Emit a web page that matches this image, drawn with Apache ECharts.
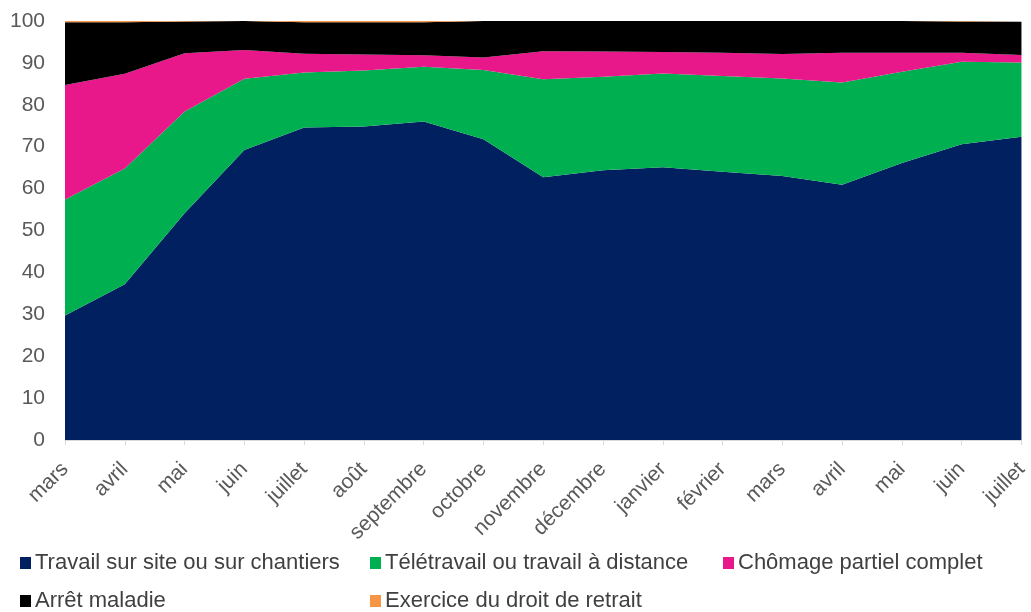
<!DOCTYPE html>
<html>
<head>
<meta charset="utf-8">
<script src="https://cdn.jsdelivr.net/npm/echarts@6/dist/echarts.min.js"></script>
<style>
  html, body { margin: 0; padding: 0; background: #fff; }
  #chart { width: 1031px; height: 612px; }
</style>
</head>
<body>
<div id="chart"></div>
<script>
// mois (mars 2020 -> juillet 2021)
const months = ["mars", "avril", "mai", "juin", "juillet", "août", "septembre", "octobre",
  "novembre", "décembre", "janvier", "février", "mars", "avril", "mai", "juin", "juillet"];

const travailSite = [29.7, 37.2, 54.1, 69.2, 74.6, 74.8, 76.0, 71.8, 62.7, 64.4, 65.1, 64.0, 63.0, 60.9, 66.1, 70.6, 72.4];
const teletravail = [27.7, 27.6, 24.3, 17.0, 13.1, 13.4, 13.1, 16.5, 23.4, 22.3, 22.4, 22.9, 23.3, 24.4, 21.8, 19.7, 17.7];
const chomage = [27.3, 22.6, 13.9, 6.9, 4.5, 3.8, 2.7, 3.0, 6.7, 6.0, 5.1, 5.5, 5.8, 7.1, 4.5, 2.1, 1.8];
const arretMaladie = [15.0, 12.3, 7.6, 6.9, 7.5, 7.7, 7.9, 8.7, 7.2, 7.3, 7.4, 7.6, 7.9, 7.6, 7.6, 7.5, 7.9];
const droitRetrait = [0.3, 0.3, 0.1, 0, 0.3, 0.3, 0.3, 0, 0, 0, 0, 0, 0, 0, 0, 0.1, 0.2];

const yTicks = [0, 100, 10]; // min, max, interval

const chart = echarts.init(document.getElementById("chart"));

function serie(name, data, color) {
  return {
    name: name,
    type: "line",
    stack: "total",
    data: data,
    symbol: "none",
    lineStyle: { width: 0 },
    areaStyle: { color: color, opacity: 1 },
    itemStyle: { color: color },
  };
}

function leg(name, left, top) {
  return {
    data: [name],
    left: left,
    top: top,
    icon: "rect",
    itemWidth: 11,
    itemHeight: 12,
    itemGap: 0,
    padding: 0,
    textStyle: { fontFamily: "Liberation Sans, Arial", fontSize: 22, color: "#404040", padding: [0, 0, 0, -1] },
  };
}

const option = {
  animation: false,
  grid: { left: 65, right: 7, top: 21, bottom: 172, containLabel: false },
  legend: [
    leg("Travail sur site ou sur chantiers", 20, 552),
    leg("Télétravail ou travail à distance", 370, 552),
    leg("Chômage partiel complet", 723, 552),
    leg("Arrêt maladie", 20, 590),
    leg("Exercice du droit de retrait", 370, 590),
  ],
  xAxis: {
    type: "category",
    data: months,
    boundaryGap: false,
    axisLine: { lineStyle: { color: "#d9d9d9" } },
    axisTick: { show: true, length: 5, lineStyle: { color: "#d9d9d9" } },
    axisLabel: {
      rotate: 45,
      interval: 0,
      margin: 26,
      fontFamily: "Liberation Sans, Arial",
      fontSize: 21,
      color: "#595959",
    },
  },
  yAxis: {
    type: "value",
    min: yTicks[0],
    max: yTicks[1],
    interval: yTicks[2],
    axisLine: { show: false },
    axisTick: { show: false },
    splitLine: { show: false },
    axisLabel: {
      margin: 20,
      fontFamily: "Liberation Sans, Arial",
      fontSize: 21,
      color: "#595959",
    },
  },
  series: [
    serie("Travail sur site ou sur chantiers", travailSite, "#002060"),
    serie("Télétravail ou travail à distance", teletravail, "#00B050"),
    serie("Chômage partiel complet", chomage, "#E8178A"),
    serie("Arrêt maladie", arretMaladie, "#000000"),
    serie("Exercice du droit de retrait", droitRetrait, "#F79646"),
  ],
};

chart.setOption(option);
</script>
</body>
</html>
